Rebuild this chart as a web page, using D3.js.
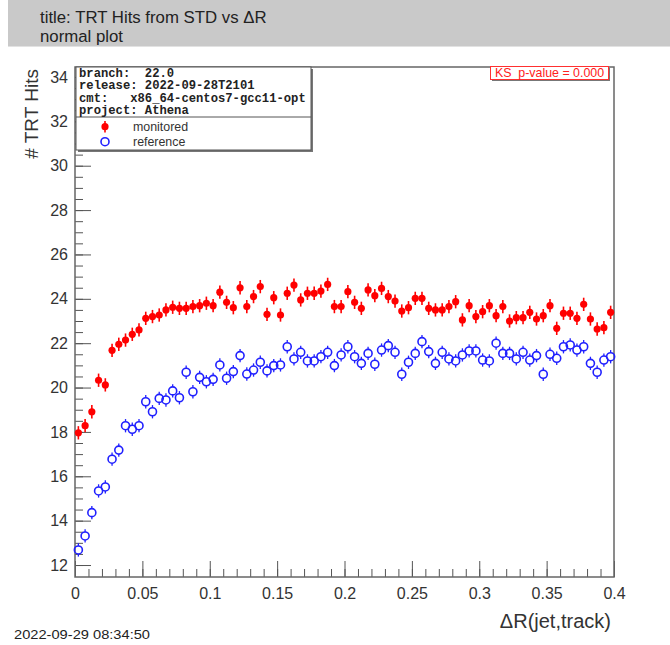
<!DOCTYPE html>
<html>
<head>
<meta charset="utf-8">
<script src="https://cdn.jsdelivr.net/npm/d3@7"></script>
<style>
  html, body { margin: 0; padding: 0; background: #fff; }
  svg { display: block; font-family: "Liberation Sans", Arial, Helvetica, sans-serif; }
</style>
</head>
<body>
<svg id="chart" width="670" height="645"></svg>
<script>
// Histogram binning of ΔR(jet,track): 80 bins over [0, 0.4]
const binLow = 0, binHigh = 0.4, nBins = 80;

// Mean number of TRT hits per bin
const monitored = [
  17.96, 18.28, 18.91, 20.33, 20.12, 21.68, 21.95, 22.14, 22.40, 22.60,
  23.12, 23.20, 23.27, 23.50, 23.62, 23.57, 23.57, 23.65, 23.69, 23.80,
  23.69, 24.30, 23.84, 23.60, 24.50, 23.65, 24.10, 24.55, 23.30, 24.05,
  23.27, 24.25, 24.62, 23.95, 24.25, 24.25, 24.35, 24.65, 23.65, 23.65,
  24.32, 23.84, 23.57, 24.40, 24.14, 24.47, 24.10, 23.90, 23.45, 23.60,
  24.02, 24.02, 23.57, 23.50, 23.50, 23.65, 23.87, 23.05, 23.69, 23.20,
  23.42, 23.69, 23.24, 23.65, 23.00, 23.15, 23.15, 23.39, 23.09, 23.24,
  23.69, 22.67, 23.35, 23.35, 23.12, 23.75, 23.09, 22.64, 22.70, 23.39
];
const reference = [
  12.68, 13.31, 14.36, 15.34, 15.52, 16.77, 17.18, 18.28, 18.12, 18.28,
  19.36, 18.91, 19.51, 19.44, 19.85, 19.54, 20.69, 19.81, 20.46, 20.26,
  20.37, 21.02, 20.42, 20.72, 21.44, 20.61, 20.79, 21.14, 20.75, 20.99,
  21.02, 21.84, 21.29, 21.59, 21.20, 21.20, 21.39, 21.59, 20.99, 21.47,
  21.84, 21.39, 21.09, 21.54, 21.05, 21.69, 21.89, 21.59, 20.60, 21.14,
  21.54, 22.07, 21.62, 21.09, 21.59, 21.29, 21.20, 21.47, 21.65, 21.65,
  21.24, 21.20, 22.00, 21.54, 21.54, 21.29, 21.59, 21.24, 21.44, 20.60,
  21.50, 21.32, 21.84, 21.92, 21.69, 21.84, 21.09, 20.69, 21.24, 21.39
];
// Statistical uncertainty on each bin mean
const monitoredErr = 0.3;
const referenceErr = 0.3;

// Axis ticks
const yMajorTicks = [12, 14, 16, 18, 20, 22, 24, 26, 28, 30, 32, 34];
const xMajorTicks = [0, 0.05, 0.1, 0.15, 0.2, 0.25, 0.3, 0.35, 0.4];
const xTickLabels = ["0", "0.05", "0.1", "0.15", "0.2", "0.25", "0.3", "0.35", "0.4"];

// Text content
const titleLines = ["title: TRT Hits from STD vs \u0394R", "normal plot"];
const infoLines = [
  "branch:  22.0",
  "release: 2022-09-28T2101",
  "cmt:   x86_64-centos7-gcc11-opt",
  "project: Athena"
];
const legendLabels = ["monitored", "reference"];
const ksText = "KS  p-value = 0.000";
const timestamp = "2022-09-29 08:34:50";

const colMon = "#ff0000", colRef = "#2020ff";

const svg = d3.select("#chart");

// ---- title pave ----
svg.append("rect").attr("x", 8).attr("y", 0).attr("width", 662).attr("height", 46)
  .attr("fill", "#c9c9c9");
svg.append("line").attr("x1", 8).attr("x2", 670).attr("y1", 46.5).attr("y2", 46.5)
  .attr("stroke", "#e2e2e2");
titleLines.forEach((t, i) => {
  svg.append("text").attr("x", 40).attr("y", 23 + i * 19)
    .attr("font-size", 16.8).attr("fill", "#222").text(t);
});

// ---- frame & scales ----
const fx0 = 75, fx1 = 614, fy0 = 67, fy1 = 577;
const x = d3.scaleLinear().domain([binLow, binHigh]).range([fx0, fx1]);
const y = d3.scaleLinear().domain([11.46, 34.45]).range([fy1, fy0]);

const binWidth = (binHigh - binLow) / nBins;
const centers = d3.range(nBins).map(i => binLow + (i + 0.5) * binWidth);

const gAxes = svg.append("g");

// y ticks (drawn inward)
gAxes.append("g").attr("transform", `translate(${fx0},0)`)
  .call(d3.axisRight(y).tickValues(d3.range(12, 34.01, 0.5)).tickSize(8).tickFormat(""))
  .call(g => g.select(".domain").remove());
gAxes.append("g").attr("transform", `translate(${fx0},0)`)
  .call(d3.axisRight(y).tickValues(yMajorTicks).tickSize(16).tickFormat(""))
  .call(g => g.select(".domain").remove());
// y labels
gAxes.append("g").attr("transform", `translate(${fx0},0)`)
  .call(d3.axisLeft(y).tickValues(yMajorTicks).tickSize(0).tickPadding(7).tickFormat(d3.format("d")))
  .call(g => g.select(".domain").remove())
  .call(g => g.selectAll("text").attr("font-size", 16).attr("fill", "#333")
    .attr("font-family", "'Liberation Sans', Arial, sans-serif"));

// x ticks (drawn inward)
gAxes.append("g").attr("transform", `translate(0,${fy1})`)
  .call(d3.axisTop(x).tickValues(d3.range(0, 0.4001, 0.01)).tickSize(8).tickFormat(""))
  .call(g => g.select(".domain").remove());
gAxes.append("g").attr("transform", `translate(0,${fy1})`)
  .call(d3.axisTop(x).tickValues(xMajorTicks).tickSize(16).tickFormat(""))
  .call(g => g.select(".domain").remove());
// x labels
gAxes.append("g").attr("transform", `translate(0,${fy1})`)
  .call(d3.axisBottom(x).tickValues(xMajorTicks).tickSize(0).tickPadding(11)
    .tickFormat((d, i) => xTickLabels[i]))
  .call(g => g.select(".domain").remove())
  .call(g => g.selectAll("text").attr("font-size", 16).attr("fill", "#333")
    .attr("font-family", "'Liberation Sans', Arial, sans-serif"));

gAxes.selectAll(".tick line").attr("stroke", "#555").attr("stroke-width", 1);

// frame
svg.append("rect").attr("x", fx0).attr("y", fy0).attr("width", fx1 - fx0).attr("height", fy1 - fy0)
  .attr("fill", "none").attr("stroke", "#666").attr("stroke-width", 1.5);

// axis titles
svg.append("text").attr("transform", `translate(38,${fy0 + 2}) rotate(-90)`)
  .attr("text-anchor", "end").attr("font-size", 19).attr("fill", "#333").text("# TRT Hits");
svg.append("text").attr("x", fx1 - 3).attr("y", 628)
  .attr("text-anchor", "end").attr("font-size", 20).attr("fill", "#333").text("\u0394R(jet,track)");

// ---- data ----
const gData = svg.append("g");

// reference: open circles with error bars
const refG = gData.append("g");
reference.forEach((v, i) => {
  const cx = x(centers[i]), cy = y(v);
  const r = 4;
  const eUp = y(v + referenceErr), eDn = y(v - referenceErr);
  if (cy - eUp > r) refG.append("line").attr("x1", cx).attr("x2", cx).attr("y1", eUp).attr("y2", cy - r)
    .attr("stroke", colRef).attr("stroke-width", 1.3);
  if (eDn - cy > r) refG.append("line").attr("x1", cx).attr("x2", cx).attr("y1", cy + r).attr("y2", eDn)
    .attr("stroke", colRef).attr("stroke-width", 1.3);
  refG.append("circle").attr("cx", cx).attr("cy", cy).attr("r", r)
    .attr("fill", "none").attr("stroke", colRef).attr("stroke-width", 1.6);
});

// monitored: filled circles with error bars
const monG = gData.append("g");
monitored.forEach((v, i) => {
  const cx = x(centers[i]), cy = y(v);
  monG.append("line").attr("x1", cx).attr("x2", cx)
    .attr("y1", y(v + monitoredErr)).attr("y2", y(v - monitoredErr))
    .attr("stroke", colMon).attr("stroke-width", 1.6);
  monG.append("line").attr("x1", x(centers[i] - binWidth / 2) + 1).attr("x2", x(centers[i] + binWidth / 2) - 1)
    .attr("y1", cy).attr("y2", cy).attr("stroke", colMon).attr("stroke-width", 1.2);
  monG.append("circle").attr("cx", cx).attr("cy", cy).attr("r", 3.6).attr("fill", colMon);
});

// ---- info + legend box ----
const lb = { x: 76, y: 67, w: 235, h: 83, split: 117 };
svg.append("rect").attr("x", lb.x + 2).attr("y", lb.y + 2).attr("width", lb.w).attr("height", lb.h)
  .attr("fill", "#777");
svg.append("rect").attr("x", lb.x).attr("y", lb.y).attr("width", lb.w).attr("height", lb.h)
  .attr("fill", "#fff").attr("stroke", "#555").attr("stroke-width", 1);
svg.append("line").attr("x1", lb.x).attr("x2", lb.x + lb.w).attr("y1", lb.split).attr("y2", lb.split)
  .attr("stroke", "#555");
infoLines.forEach((t, i) => {
  svg.append("text").attr("x", 79).attr("y", 76.5 + i * 12.5)
    .attr("font-family", "'Liberation Mono', 'DejaVu Sans Mono', monospace")
    .attr("font-weight", "bold").attr("font-size", 12.2).attr("fill", "#222")
    .attr("xml:space", "preserve").style("white-space", "pre").text(t);
});
// legend entries
svg.append("line").attr("x1", 105).attr("x2", 105).attr("y1", 121).attr("y2", 132.5)
  .attr("stroke", colMon).attr("stroke-width", 1.6);
svg.append("circle").attr("cx", 105).attr("cy", 126.7).attr("r", 3.6).attr("fill", colMon);
svg.append("circle").attr("cx", 105).attr("cy", 141.7).attr("r", 4)
  .attr("fill", "none").attr("stroke", colRef).attr("stroke-width", 1.6);
legendLabels.forEach((t, i) => {
  svg.append("text").attr("x", 133).attr("y", 126.7 + i * 15).attr("dy", "0.35em")
    .attr("font-size", 12.4).attr("fill", "#333").text(t);
});

// ---- KS box ----
svg.append("rect").attr("x", 492).attr("y", 68).attr("width", 118).attr("height", 13).attr("fill", "#777");
svg.append("rect").attr("x", 490.5).attr("y", 66.5).attr("width", 118).attr("height", 13)
  .attr("fill", "#fff").attr("stroke", "#ff3030").attr("stroke-width", 1);
svg.append("text").attr("x", 549.5).attr("y", 73).attr("dy", "0.35em").attr("text-anchor", "middle")
  .attr("font-size", 12.4).attr("fill", "#ff2020").attr("xml:space", "preserve")
  .style("white-space", "pre").text(ksText);

// ---- timestamp ----
svg.append("text").attr("x", 14).attr("y", 639).attr("font-size", 13).attr("fill", "#222")
  .attr("textLength", 136).attr("lengthAdjust", "spacingAndGlyphs").text(timestamp);
</script>
</body>
</html>
